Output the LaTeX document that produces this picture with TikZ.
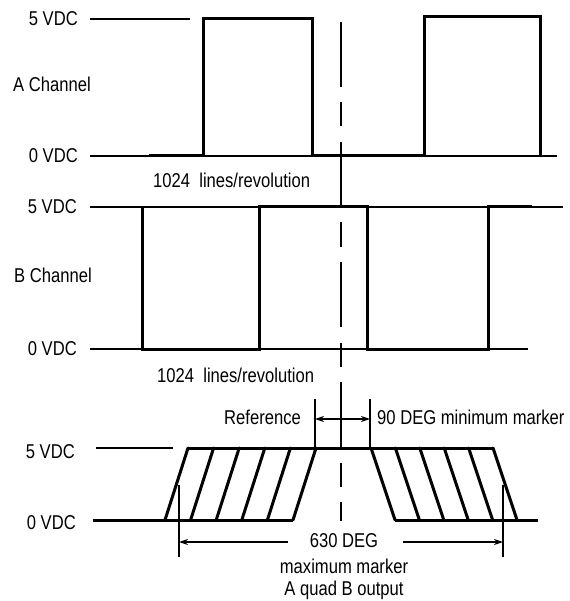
\documentclass[tikz,border=0pt]{standalone}
\usepackage{fontspec}
\setmainfont[FakeStretch=0.83]{Liberation Sans}
\usetikzlibrary{arrows.meta}
\tikzset{
  guide/.style={line width=1.2pt, black},
  wave/.style={line width=3pt, black, line join=miter},
  lbl/.style={inner sep=0pt, font=\fontsize{20}{23}\selectfont},
  dim/.style={line width=1.2pt, -{Stealth[length=9pt,width=6pt]}},
  center line/.style={line width=1.4pt, dash pattern=on 65pt off 15.5pt on 24pt off 15.5pt}
}
\begin{document}
\begin{tikzpicture}[x=1pt,y=-1pt]
\useasboundingbox (0,0) rectangle (569,601);

% ---------- A channel ----------
\node[lbl, anchor=east] (a5) at (78,19) {5 VDC};
\node[lbl, anchor=west] (ach) at (13,84) {A Channel};
\node[lbl, anchor=east] (a0) at (78,156) {0 VDC};
\node[lbl, anchor=west] (alines) at (153,180) {1024~~lines/revolution};
\draw[guide] (90,19) -- (190,19);
\draw[guide] (90,156) -- (557,156);
\draw[wave] (149,156) -- (203,156) -- (203,19) -- (312,19) -- (312,156)
  -- (424,156) -- (424,17) -- (540,17) -- (540,156);

% ---------- B channel ----------
\node[lbl, anchor=east] (b5) at (77,207) {5 VDC};
\node[lbl, anchor=west] (bch) at (14,275) {B Channel};
\node[lbl, anchor=east] (b0) at (77,349) {0 VDC};
\node[lbl, anchor=west] (blines) at (157,375) {1024~~lines/revolution};
\draw[guide] (90,207) -- (563,207);
\draw[guide] (90,349) -- (528,349);
\draw[wave] (142,207) -- (142,349) -- (259,349) -- (259,207) -- (367,207)
  -- (367,349) -- (488,349) -- (488,207) -- (532,207);

% ---------- Marker output ----------
\node[lbl, anchor=east] (m5) at (75,452) {5 VDC};
\node[lbl, anchor=east] (m0) at (76,523) {0 VDC};
\draw[guide] (96,448) -- (173,448);
\draw[wave] (93,520) -- (293,520);
\draw[wave] (188,448) -- (493,448);
\draw[wave] (395,520) -- (538,520);
\foreach \i in {0,...,5} {
  \draw[wave, line cap=round] ({165+25.6*\i},520) -- ({188+25.6*\i},448);
  \draw[wave, line cap=round] ({371+24.4*\i},448) -- ({395+24.4*\i},520);
}

% reference / minimum marker
\coordinate (r1) at (315,419);
\coordinate (r2) at (370,419);
\draw[guide] (315,399) -- (315,448);
\draw[guide] (370,399) -- (370,448);
\draw[guide, {Stealth[length=9pt,width=6pt]}-{Stealth[length=9pt,width=6pt]}] (r1) -- (r2);
\node[lbl, anchor=east] (ref) at (301,417) {Reference};
\node[lbl, anchor=west] (min) at (377,417) {90 DEG minimum marker};

% maximum marker
\coordinate (ml) at (179,542);
\coordinate (mr) at (503,542);
\coordinate (mls) at (288,542);
\coordinate (mrs) at (403,542);
\draw[guide] (179,485) -- (179,557);
\draw[guide] (503,485) -- (503,557);
\draw[dim] (mls) -- (ml);
\draw[dim] (mrs) -- (mr);
\node[lbl] (deg) at (344,541) {630 DEG};
\node[lbl] (max) at (344,566) {maximum marker};
\node[lbl] (quad) at (344,590) {A quad B output};

% centre line
\draw[center line] (341,22) -- (341,521);
\end{tikzpicture}
\end{document}
